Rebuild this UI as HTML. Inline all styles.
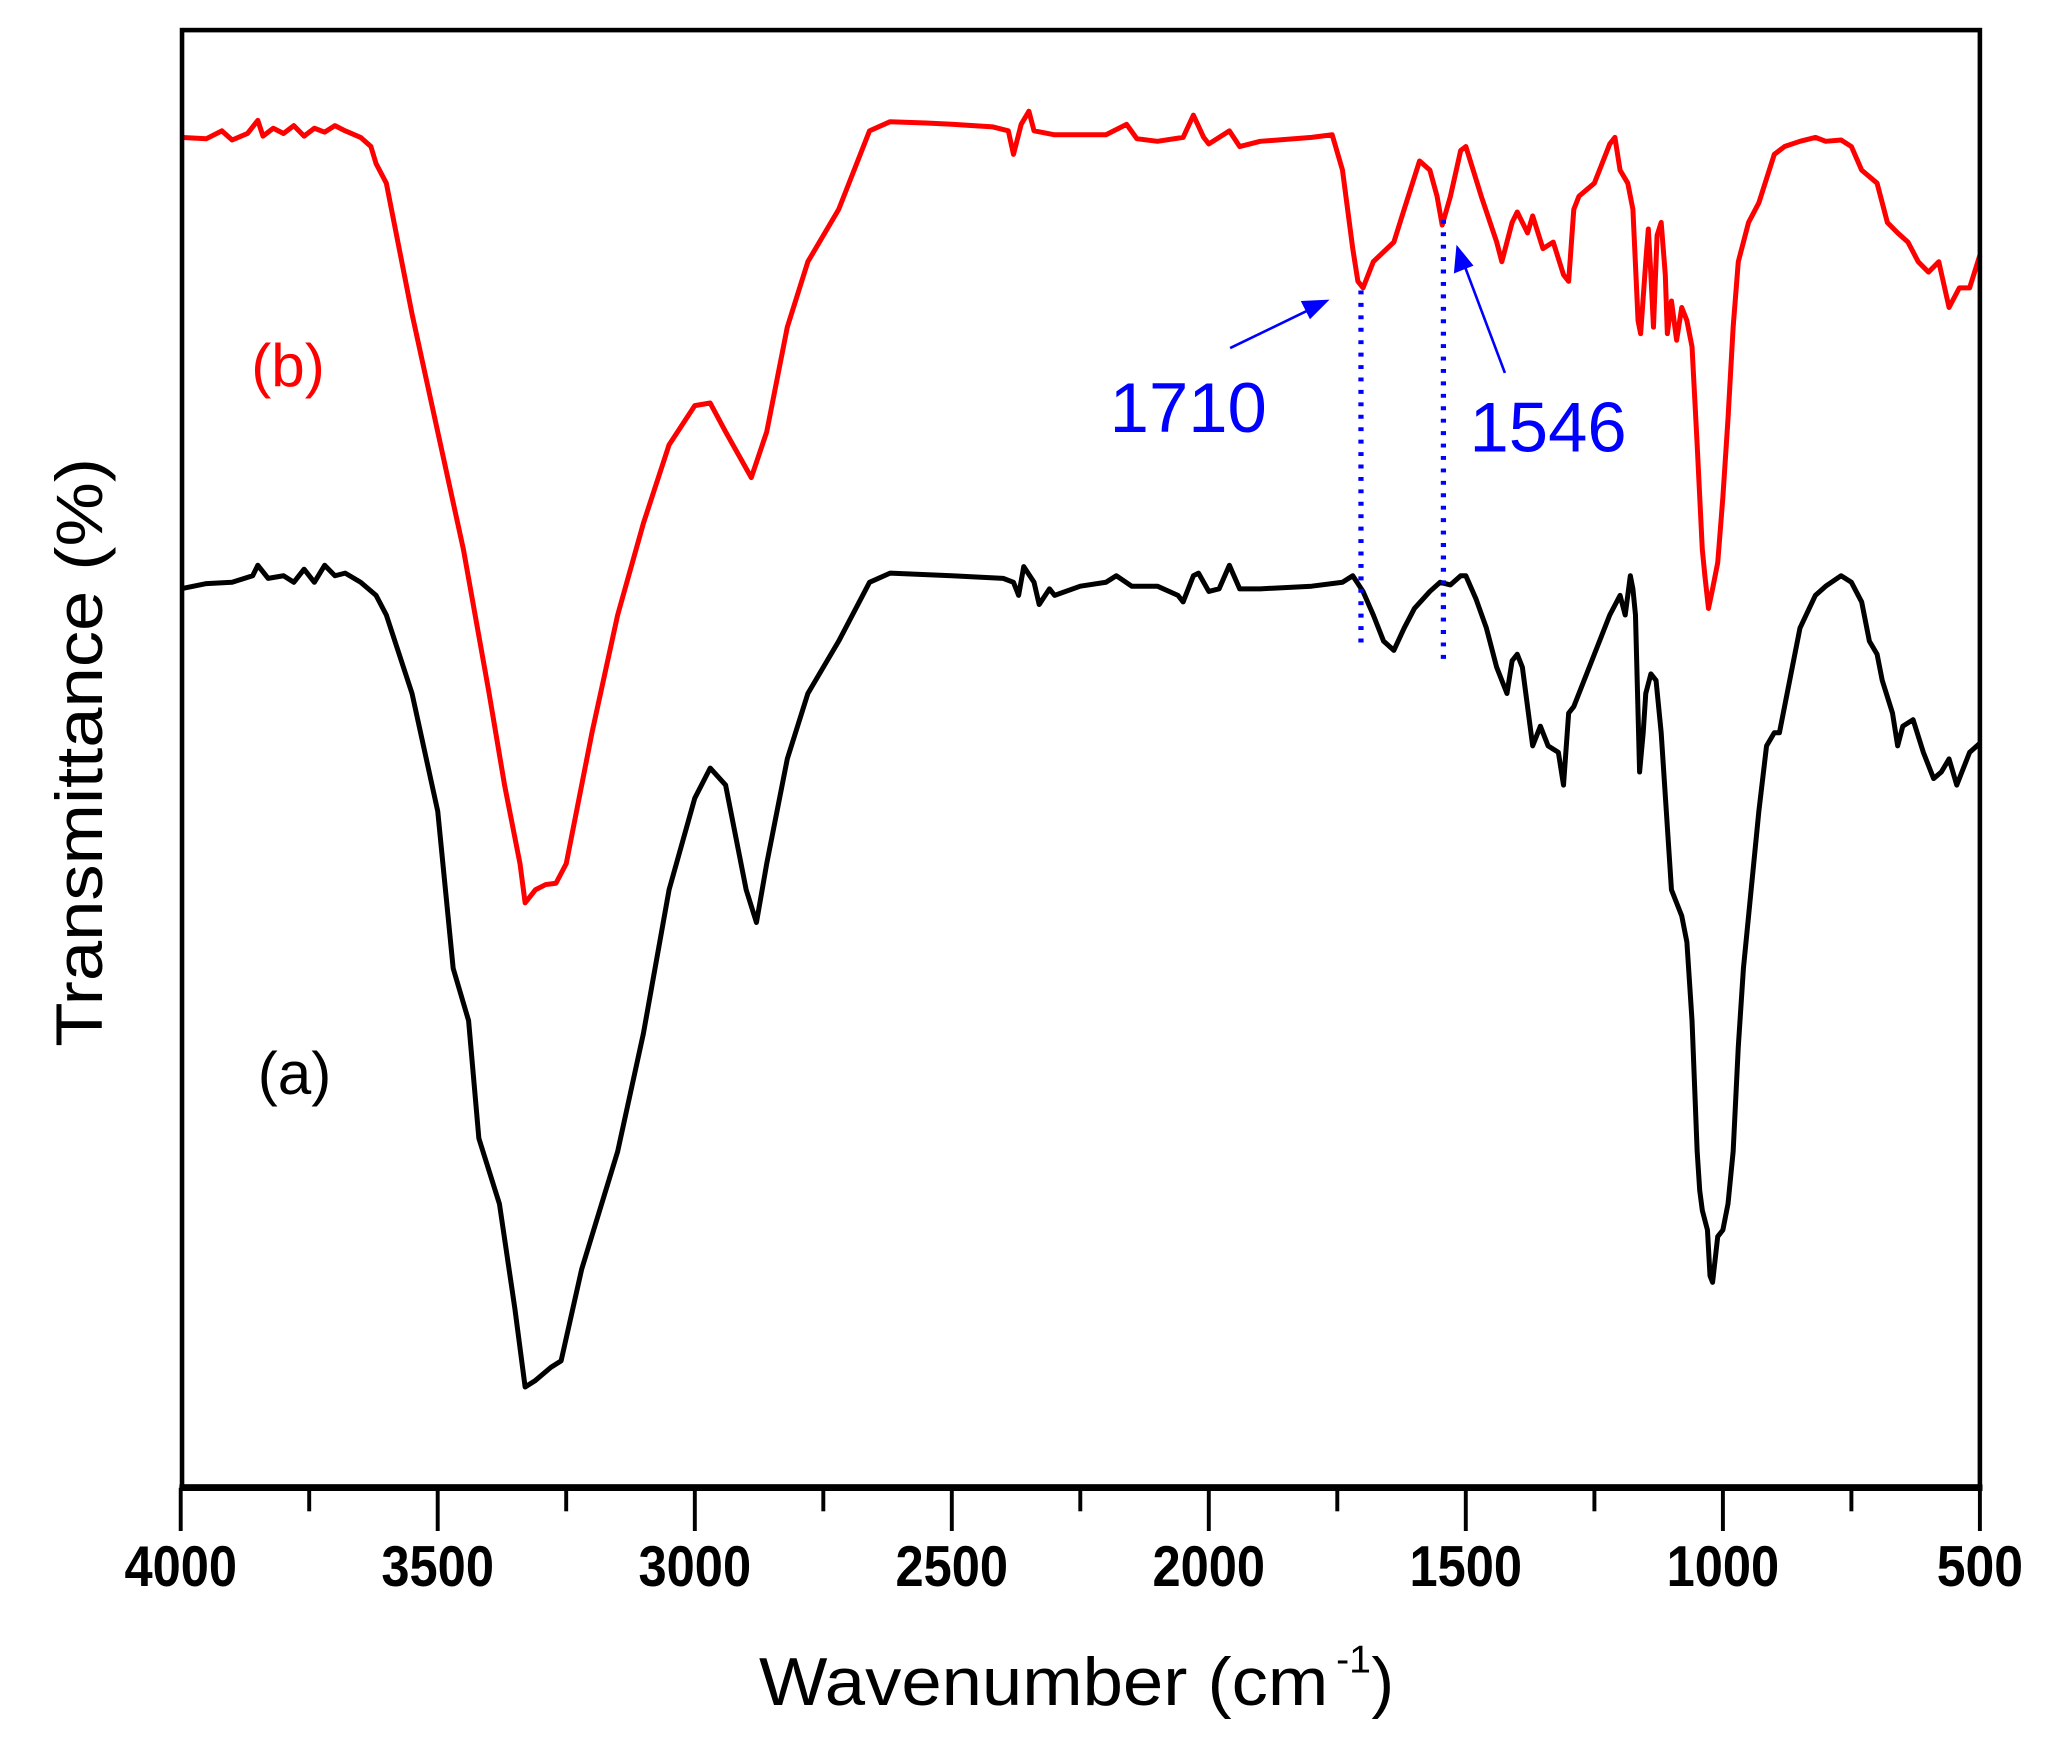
<!DOCTYPE html>
<html><head><meta charset="utf-8"><style>
html,body{margin:0;padding:0;background:#fff;}
svg{display:block;}
text{font-family:"Liberation Sans",Arial,sans-serif;}
</style></head><body>
<svg width="2052" height="1756" viewBox="0 0 1568 1342" xmlns="http://www.w3.org/2000/svg">
<rect width="1568" height="1342" fill="#fff"/>
<g transform="matrix(-0.392857 0 0 1 1709.43 0)" fill="none" stroke-linejoin="round">
<polyline vector-effect="non-scaling-stroke" stroke="#ff0000" stroke-width="5" points="4000,105 3950,106 3920,100 3900,107 3870,102 3850,92 3840,104 3820,98 3800,102 3780,96 3760,104 3740,98 3720,101 3700,96 3680,100 3650,105 3630,112 3620,125 3600,140 3550,240 3500,330 3450,420 3400,530 3370,600 3340,660 3330,690 3310,680 3290,676 3270,675 3250,660 3200,560 3150,470 3100,400 3050,340 3000,310 2970,308 2940,330 2890,365 2860,330 2820,250 2780,200 2720,160 2660,100 2620,93 2550,94 2500,95 2420,97 2390,100 2380,118 2365,95 2350,85 2340,100 2300,103 2200,103 2160,95 2140,106 2100,108 2050,105 2030,88 2010,105 2000,110 1960,100 1940,112 1900,108 1800,105 1760,103 1740,130 1720,190 1710,215 1700,220 1680,200 1640,185 1620,160 1590,123 1570,130 1556,150 1546,172 1530,150 1510,115 1500,112 1470,150 1440,185 1430,200 1410,170 1400,162 1380,178 1370,165 1350,190 1330,185 1310,210 1300,215 1290,160 1280,150 1250,140 1220,110 1210,105 1200,130 1185,140 1175,160 1165,245 1160,255 1150,200 1145,175 1140,210 1135,250 1128,180 1120,170 1112,210 1108,255 1100,230 1090,260 1080,235 1070,245 1060,265 1050,340 1040,420 1035,440 1028,465 1020,450 1010,430 1000,380 990,320 980,250 970,200 950,170 930,155 900,118 880,112 850,108 820,105 800,108 770,107 750,112 730,130 700,140 680,170 660,178 640,185 620,200 600,208 580,200 560,235 540,220 520,220 500,195"/>
<polyline vector-effect="non-scaling-stroke" stroke="#000" stroke-width="5" points="4000,450 3950,446 3900,445 3860,440 3850,432 3830,442 3800,440 3780,445 3760,435 3740,445 3720,432 3700,440 3680,438 3650,445 3620,455 3600,470 3550,530 3500,620 3470,740 3440,780 3420,870 3380,920 3350,1000 3330,1060 3310,1055 3280,1045 3260,1040 3220,970 3150,880 3100,790 3050,680 3000,610 2970,587 2940,600 2900,680 2880,705 2860,660 2820,580 2780,530 2720,490 2660,445 2620,438 2500,440 2400,442 2380,445 2370,455 2360,433 2340,445 2330,462 2310,450 2300,455 2250,448 2200,445 2180,440 2150,448 2100,448 2060,455 2050,460 2030,440 2020,438 2000,452 1980,450 1960,432 1940,450 1900,450 1800,448 1740,445 1720,440 1700,452 1680,470 1660,490 1640,497 1620,480 1600,465 1570,452 1550,445 1530,447 1510,440 1500,440 1480,458 1460,480 1440,510 1420,530 1410,505 1400,500 1390,510 1380,540 1370,570 1355,555 1340,570 1320,575 1310,600 1300,545 1290,540 1270,520 1250,500 1220,470 1200,455 1190,470 1180,440 1175,450 1170,470 1162,590 1155,560 1150,530 1140,515 1130,520 1120,560 1110,620 1100,680 1090,690 1080,700 1070,720 1060,780 1050,880 1045,910 1040,925 1030,940 1025,975 1020,980 1010,945 1000,940 990,920 980,880 970,800 960,740 945,680 930,620 915,570 900,560 890,560 870,520 850,480 820,455 800,448 770,440 750,445 730,460 715,490 700,500 690,520 670,545 660,570 650,555 630,550 610,575 590,595 575,590 560,580 545,600 535,590 520,575 500,568"/>
</g>
<line x1="1040" y1="222" x2="1040" y2="492" stroke="#0000ff" stroke-width="4" stroke-dasharray="3 6.5"/>
<line x1="1103" y1="168" x2="1103" y2="505" stroke="#0000ff" stroke-width="4" stroke-dasharray="3 6.5"/>
<line x1="940" y1="266" x2="1000" y2="237" stroke="#0000ff" stroke-width="2"/>
<polygon points="1016,229 994,230 1001,244" fill="#0000ff"/>
<line x1="1150" y1="285" x2="1118" y2="200" stroke="#0000ff" stroke-width="2"/>
<polygon points="1113,187 1111,209 1126,203" fill="#0000ff"/>
<text x="908" y="330" font-size="54" fill="#0000ff" text-anchor="middle">1710</text>
<text x="1183" y="345" font-size="54" fill="#0000ff" text-anchor="middle">1546</text>
<text x="220" y="295" font-size="46" fill="#ff0000" text-anchor="middle">(b)</text>
<text x="225" y="836" font-size="46" fill="#000" text-anchor="middle">(a)</text>
<rect x="139" y="23" width="1374" height="1113" fill="none" stroke="#000" stroke-width="3.5"/>
<line x1="137" y1="1137" x2="1515" y2="1137" stroke="#000" stroke-width="5"/>
<g stroke="#000" stroke-width="3">
<line x1="138" y1="1137" x2="138" y2="1170"/><line x1="236.2" y1="1137" x2="236.2" y2="1155"/>
<line x1="334.4" y1="1137" x2="334.4" y2="1170"/><line x1="432.6" y1="1137" x2="432.6" y2="1155"/>
<line x1="530.9" y1="1137" x2="530.9" y2="1170"/><line x1="629.1" y1="1137" x2="629.1" y2="1155"/>
<line x1="727.3" y1="1137" x2="727.3" y2="1170"/><line x1="825.5" y1="1137" x2="825.5" y2="1155"/>
<line x1="923.7" y1="1137" x2="923.7" y2="1170"/><line x1="1021.9" y1="1137" x2="1021.9" y2="1155"/>
<line x1="1120.1" y1="1137" x2="1120.1" y2="1170"/><line x1="1218.4" y1="1137" x2="1218.4" y2="1155"/>
<line x1="1316.6" y1="1137" x2="1316.6" y2="1170"/><line x1="1414.8" y1="1137" x2="1414.8" y2="1155"/>
<line x1="1513" y1="1137" x2="1513" y2="1170"/>
</g>
<g font-size="44" font-weight="bold" text-anchor="middle" fill="#000">
<text x="138" y="1212" textLength="86" lengthAdjust="spacingAndGlyphs">4000</text>
<text x="334.4" y="1212" textLength="86" lengthAdjust="spacingAndGlyphs">3500</text>
<text x="530.9" y="1212" textLength="86" lengthAdjust="spacingAndGlyphs">3000</text>
<text x="727.3" y="1212" textLength="86" lengthAdjust="spacingAndGlyphs">2500</text>
<text x="923.7" y="1212" textLength="86" lengthAdjust="spacingAndGlyphs">2000</text>
<text x="1120.1" y="1212" textLength="86" lengthAdjust="spacingAndGlyphs">1500</text>
<text x="1316.6" y="1212" textLength="86" lengthAdjust="spacingAndGlyphs">1000</text>
<text x="1513" y="1212" textLength="66" lengthAdjust="spacingAndGlyphs">500</text>
</g>
<text x="580" y="1303" font-size="52" fill="#000" textLength="435" lengthAdjust="spacingAndGlyphs">Wavenumber (cm</text>
<text x="1021" y="1278" font-size="30" fill="#000">-1</text>
<text x="1048" y="1303" font-size="52" fill="#000">)</text>
<text transform="translate(78,575) rotate(-90)" font-size="50" fill="#000" text-anchor="middle" textLength="450" lengthAdjust="spacingAndGlyphs">Transmittance (%)</text>
</svg>
</body></html>
